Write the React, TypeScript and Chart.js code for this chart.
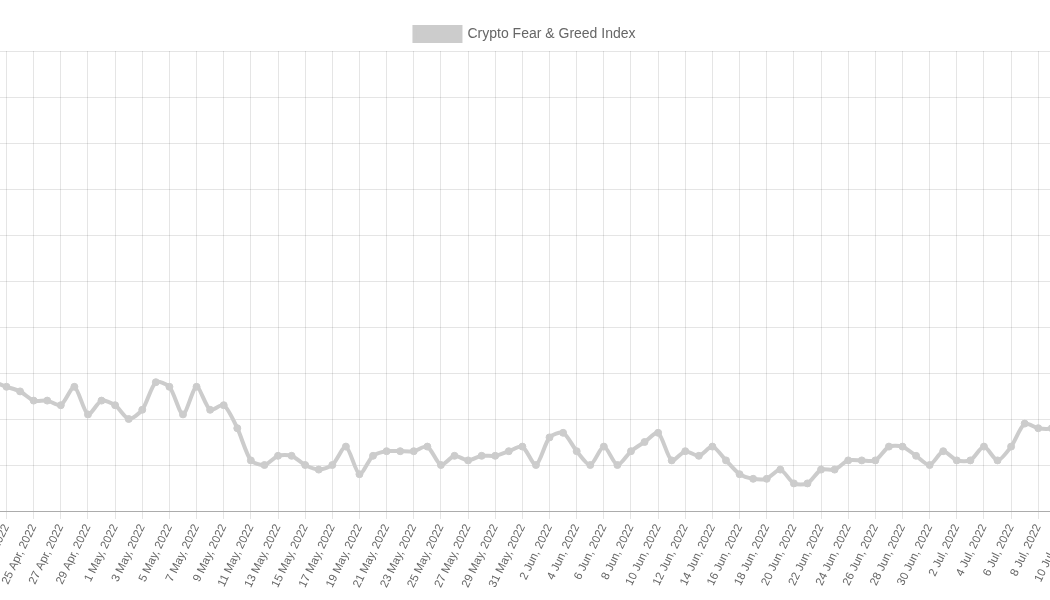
import React, { useEffect, useRef } from "react";
import { Chart, registerables } from "chart.js";

Chart.register(...registerables);

const labels = [
  "21 Apr, 2022", "22 Apr, 2022", "23 Apr, 2022", "24 Apr, 2022", "25 Apr, 2022",
  "26 Apr, 2022", "27 Apr, 2022", "28 Apr, 2022", "29 Apr, 2022", "30 Apr, 2022",
  "1 May, 2022", "2 May, 2022", "3 May, 2022", "4 May, 2022", "5 May, 2022",
  "6 May, 2022", "7 May, 2022", "8 May, 2022", "9 May, 2022", "10 May, 2022",
  "11 May, 2022", "12 May, 2022", "13 May, 2022", "14 May, 2022", "15 May, 2022",
  "16 May, 2022", "17 May, 2022", "18 May, 2022", "19 May, 2022", "20 May, 2022",
  "21 May, 2022", "22 May, 2022", "23 May, 2022", "24 May, 2022", "25 May, 2022",
  "26 May, 2022", "27 May, 2022", "28 May, 2022", "29 May, 2022", "30 May, 2022",
  "31 May, 2022", "1 Jun, 2022", "2 Jun, 2022", "3 Jun, 2022", "4 Jun, 2022",
  "5 Jun, 2022", "6 Jun, 2022", "7 Jun, 2022", "8 Jun, 2022", "9 Jun, 2022",
  "10 Jun, 2022", "11 Jun, 2022", "12 Jun, 2022", "13 Jun, 2022", "14 Jun, 2022",
  "15 Jun, 2022", "16 Jun, 2022", "17 Jun, 2022", "18 Jun, 2022", "19 Jun, 2022",
  "20 Jun, 2022", "21 Jun, 2022", "22 Jun, 2022", "23 Jun, 2022", "24 Jun, 2022",
  "25 Jun, 2022", "26 Jun, 2022", "27 Jun, 2022", "28 Jun, 2022", "29 Jun, 2022",
  "30 Jun, 2022", "1 Jul, 2022", "2 Jul, 2022", "3 Jul, 2022", "4 Jul, 2022",
  "5 Jul, 2022", "6 Jul, 2022", "7 Jul, 2022", "8 Jul, 2022", "9 Jul, 2022",
  "10 Jul, 2022",
];

const aprValues = [27, 28, 27, 26, 24, 24, 23, 27, 21, 24];
const mayValues = [
  23, 20, 22, 28, 27, 21, 27, 22, 23, 18,
  11, 10, 12, 12, 10, 9, 10, 14, 8, 12,
  13, 13, 13, 14, 10, 12, 11, 12, 12, 13, 14,
];
const junValues = [
  10, 16, 17, 13, 10, 14, 10, 13, 15, 17,
  11, 13, 12, 14, 11, 8, 7, 7, 9, 6,
  6, 9, 9, 11, 11, 11, 14, 14, 12, 10,
];
const julValues = [13, 11, 11, 14, 11, 14, 19, 18, 18, 20];

const fearGreed = [...aprValues, ...mayValues, ...junValues, ...julValues];

const seriesLabel = "Crypto Fear & Greed Index";
const yMin = 0;
const yMax = 100;
const yStep = 10;

export default function App() {
  const ref = useRef<HTMLCanvasElement | null>(null);

  useEffect(() => {
    if (!ref.current) return;
    Chart.defaults.font.family = "'Helvetica Neue', Helvetica, Arial, 'Liberation Sans', sans-serif";
    Chart.defaults.color = "#666";
    const chart = new Chart(ref.current, {
      type: "line",
      data: {
        labels,
        datasets: [
          {
            label: seriesLabel,
            data: fearGreed,
            borderColor: "#cccccc",
            backgroundColor: "#cccccc",
            borderWidth: 4,
            pointRadius: 3.5,
            pointBorderWidth: 1,
            pointBackgroundColor: "#cccccc",
            pointBorderColor: "#cccccc",
            tension: 0.25,
            fill: false,
          },
        ],
      },
      options: {
        responsive: false,
        animation: false,
        devicePixelRatio: 1,
        layout: { padding: 0 },
        plugins: {
          legend: {
            labels: {
              font: { size: 14 },
              color: "#666",
              boxWidth: 46,
              boxHeight: 14,
              padding: 25,
            },
          },
          tooltip: { enabled: false },
        },
        scales: {
          x: {
            grid: { color: "rgba(0,0,0,0.1)", tickLength: 8 },
            border: { color: "rgba(0,0,0,0.25)" },
            ticks: {
              autoSkip: true,
              autoSkipPadding: 4,
              minRotation: 64,
              maxRotation: 64,
              font: { size: 11.5 },
              color: "#666",
              padding: 3,
            },
            afterFit: (s: any) => {
              s.height = 80;
              s.paddingLeft = 0;
              s.paddingRight = 44.6;
            },
          },
          y: {
            min: yMin,
            max: yMax,
            grid: { color: "rgba(0,0,0,0.1)" },
            border: { color: "rgba(0,0,0,0.25)" },
            ticks: { stepSize: yStep, font: { size: 12 }, color: "#666" },
            afterFit: (s: any) => {
              s.width = 39.35;
              s.paddingTop = 51;
            },
          },
        },
      },
    });
    return () => chart.destroy();
  }, []);

  return (
    <div
      style={{
        position: "fixed",
        left: 0,
        top: 0,
        width: 1050,
        height: 600,
        overflow: "hidden",
        background: "#fff",
      }}
    >
      <canvas
        ref={ref}
        width={1170}
        height={591}
        style={{ position: "absolute", left: -60, top: 0, width: 1170, height: 591 }}
      />
    </div>
  );
}
